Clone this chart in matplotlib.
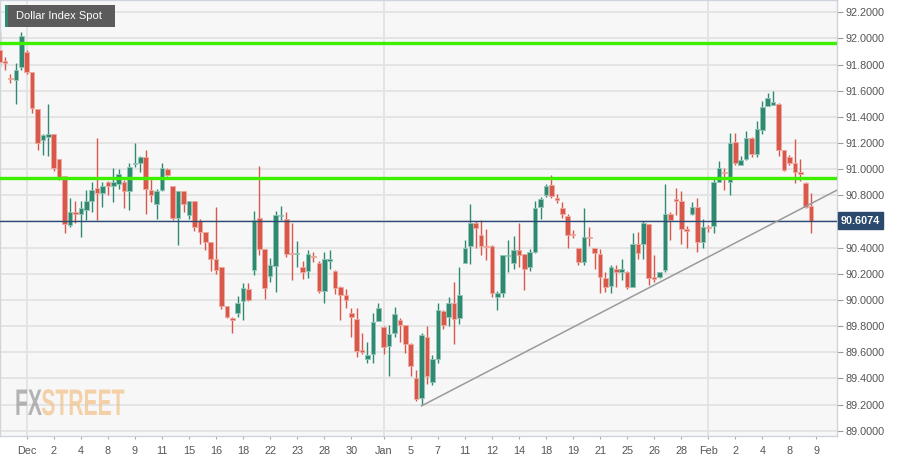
import matplotlib
matplotlib.use("Agg")
import numpy as np
import matplotlib.pyplot as plt
import matplotlib.transforms as mtransforms
from matplotlib.textpath import TextPath
from matplotlib.patches import PathPatch
from matplotlib.font_manager import FontProperties

# Candle data, one candle per index
opens = [91.91, 91.83, 91.70, 91.68, 91.78, 91.90, 91.74, 91.46, 91.22, 91.25,
         91.27, 91.08, 90.95, 90.57, 90.67, 90.66, 90.69, 90.76, 90.855, 90.82,
         90.905, 90.87, 90.89, 90.90, 90.83, 91.04, 91.05, 91.095, 90.84, 90.73,
         90.84, 91.00, 90.87, 90.63, 90.835, 90.65, 90.76, 90.60, 90.52, 90.44,
         90.31, 90.25, 89.95, 89.86, 89.90, 89.99, 90.08, 90.23, 90.63, 90.39,
         90.18, 90.26, 90.64, 90.62, 90.357, 90.35, 90.255, 90.22, 90.335, 90.28,
         90.07, 90.30, 90.224, 90.097, 90.04, 89.90, 89.855, 89.62, 89.545, 89.59,
         89.84, 89.79, 89.645, 89.745, 89.85, 89.805, 89.66, 89.40, 89.25, 89.72,
         89.37, 89.55, 89.915, 89.87, 89.98, 89.865, 90.28, 90.41, 90.585, 90.50,
         90.415, 90.415, 90.025, 90.05, 90.335, 90.285, 90.385, 90.35, 90.255, 90.365,
         90.71, 90.80, 90.88, 90.777, 90.705, 90.64, 90.505, 90.40, 90.29, 90.485,
         90.395, 90.35, 90.17, 90.107, 90.24, 90.215, 90.215, 90.10, 90.425, 90.43,
         90.58, 90.175, 90.175, 90.23, 90.655, 90.77, 90.76, 90.54, 90.655, 90.71,
         90.44, 90.56, 90.565, 90.905, 90.98, 90.905, 91.205, 91.03, 91.076, 91.236,
         91.12, 91.30, 91.483, 91.49, 91.50, 91.147, 91.096, 91.05, 90.98, 90.897,
         90.72]
highs = [92.05, 91.86, 91.73, 91.81, 92.05, 91.91, 91.74, 91.46, 91.27, 91.50,
         91.27, 91.08, 90.95, 90.78, 90.76, 90.76, 90.84, 90.90, 91.24, 90.90,
         90.91, 91.01, 91.00, 90.92, 91.05, 91.20, 91.10, 91.15, 90.94, 90.85,
         91.045, 91.01, 90.875, 90.83, 90.835, 90.76, 90.76, 90.62, 90.52, 90.44,
         90.71, 90.25, 89.95, 89.87, 90.03, 90.13, 90.13, 90.68, 91.025, 90.39,
         90.32, 90.68, 90.72, 90.67, 90.585, 90.45, 90.30, 90.38, 90.365, 90.30,
         90.37, 90.38, 90.23, 90.11, 90.08, 89.935, 89.935, 89.75, 89.68, 89.90,
         89.975, 89.80, 89.81, 89.945, 89.86, 89.81, 89.67, 89.465, 89.75, 89.80,
         89.58, 89.975, 89.92, 90.025, 90.135, 90.255, 90.46, 90.73, 90.60, 90.61,
         90.54, 90.42, 90.065, 90.345, 90.455, 90.49, 90.585, 90.35, 90.39, 90.755,
         90.79, 90.885, 90.955, 90.81, 90.75, 90.66, 90.535, 90.40, 90.70, 90.56,
         90.40, 90.39, 90.215, 90.27, 90.27, 90.31, 90.22, 90.51, 90.52, 90.605,
         90.58, 90.34, 90.215, 90.89, 90.67, 90.855, 90.83, 90.565, 90.75, 90.78,
         90.62, 90.57, 90.93, 91.06, 91.007, 91.275, 91.275, 91.10, 91.295, 91.245,
         91.365, 91.524, 91.585, 91.60, 91.51, 91.147, 91.11, 91.23, 91.076, 90.90,
         90.815]
lows = [91.78, 91.76, 91.66, 91.50, 91.76, 91.73, 91.43, 91.15, 91.11, 91.10,
        90.99, 90.92, 90.51, 90.56, 90.59, 90.48, 90.61, 90.67, 90.61, 90.71,
        90.80, 90.75, 90.85, 90.70, 90.69, 91.02, 90.98, 90.66, 90.75, 90.62,
        90.83, 90.95, 90.61, 90.42, 90.67, 90.62, 90.53, 90.43, 90.38, 90.22,
        90.20, 89.93, 89.86, 89.75, 89.87, 89.85, 89.99, 90.19, 90.34, 90.01,
        90.14, 90.06, 90.61, 90.33, 90.15, 90.255, 90.16, 90.17, 90.29, 90.055,
        89.98, 90.235, 90.045, 89.85, 89.935, 89.715, 89.56, 89.59, 89.515, 89.515,
        89.84, 89.585, 89.42, 89.72, 89.68, 89.595, 89.42, 89.23, 89.197, 89.36,
        89.35, 89.52, 89.775, 89.80, 89.665, 89.815, 90.28, 90.275, 90.395, 90.345,
        90.305, 90.025, 89.925, 90.02, 90.215, 90.235, 90.255, 90.076, 90.22, 90.36,
        90.617, 90.79, 90.777, 90.74, 90.63, 90.40, 90.47, 90.27, 90.27, 90.41,
        90.24, 90.05, 90.06, 90.05, 90.10, 90.155, 90.08, 90.10, 90.31, 90.31,
        90.115, 90.14, 90.17, 90.215, 90.455, 90.65, 90.43, 90.40, 90.65, 90.37,
        90.40, 90.52, 90.515, 90.90, 90.84, 90.80, 91.03, 91.03, 91.07, 91.09,
        91.09, 91.27, 91.48, 91.49, 91.10, 90.99, 91.03, 90.897, 90.91, 90.70,
        90.51]
closes = [91.82, 91.81, 91.69, 91.76, 92.02, 91.745, 91.47, 91.20, 91.26, 91.27,
          91.01, 90.94, 90.58, 90.67, 90.66, 90.70, 90.76, 90.84, 90.82, 90.87,
          90.875, 90.90, 90.965, 90.83, 91.02, 91.05, 91.09, 90.85, 90.80, 90.83,
          91.01, 90.955, 90.625, 90.83, 90.73, 90.76, 90.56, 90.52, 90.44, 90.31,
          90.23, 89.95, 89.87, 89.85, 89.975, 90.09, 90.00, 90.61, 90.39, 90.09,
          90.27, 90.65, 90.65, 90.35, 90.35, 90.36, 90.21, 90.35, 90.33, 90.07,
          90.31, 90.31, 90.094, 90.04, 90.00, 89.87, 89.61, 89.605, 89.58, 89.83,
          89.94, 89.64, 89.74, 89.89, 89.81, 89.66, 89.495, 89.24, 89.73, 89.42,
          89.55, 89.92, 89.81, 89.975, 89.855, 90.04, 90.40, 90.585, 90.55, 90.415,
          90.407, 90.05, 90.05, 90.345, 90.34, 90.38, 90.34, 90.24, 90.365, 90.705,
          90.77, 90.875, 90.795, 90.767, 90.655, 90.50, 90.495, 90.29, 90.485, 90.47,
          90.357, 90.177, 90.10, 90.25, 90.216, 90.235, 90.10, 90.425, 90.36, 90.59,
          90.165, 90.16, 90.21, 90.655, 90.61, 90.76, 90.54, 90.53, 90.71, 90.445,
          90.555, 90.55, 90.905, 91.007, 90.97, 91.20, 91.05, 91.07, 91.236, 91.116,
          91.31, 91.473, 91.542, 91.515, 91.147, 90.994, 91.05, 90.98, 90.963, 90.713,
          90.6074]

tick_pos = [5, 10, 15, 20, 25, 30, 35, 40, 45, 50, 55, 60, 65, 71, 76, 81,
            86, 91, 96, 101, 106, 111, 116, 121, 126, 131, 136, 141, 146, 151]
tick_labels = ["Dec", "2", "4", "8", "9", "11", "15", "16", "18", "22", "23", "28",
               "30", "Jan", "5", "7", "11", "12", "14", "18", "19", "21", "25",
               "26", "28", "Feb", "2", "4", "8", "9"]
month_pos = [5, 71, 131]
price_ticks = [89.0, 89.2, 89.4, 89.6, 89.8, 90.0, 90.2, 90.4, 90.6, 90.8,
               91.0, 91.2, 91.4, 91.6, 91.8, 92.0, 92.2]

resistance = [91.965, 90.93]
last_price = 90.6074
trend_x = [78, 154.8]
trend_y = [89.19, 90.84]

green = "#2f8a71"
green_edge = "#93c7b8"
red = "#d8584a"
red_edge = "#f0aaa2"

fig = plt.figure(figsize=(9.07, 4.61), dpi=100)
fig.patch.set_facecolor("white")
ax = fig.add_axes([0, 25 / 461, 837 / 907, 436 / 461])
ax.set_facecolor("#f7f7f7")

x = np.arange(len(opens))
o = np.array(opens)
c = np.array(closes)
up = c >= o

# gridlines
for yv in price_ticks:
    ax.axhline(yv, color="#e3e3e3", lw=1.3, zorder=0)
for mp in month_pos:
    ax.axvline(mp, color="#e3e3e3", lw=1.3, zorder=0)

# candles
col = np.where(up, green, red)
ecol = np.where(up, green_edge, red_edge)
ax.vlines(x, lows, highs, colors=col, lw=1.0, zorder=2)
body = np.maximum(np.abs(c - o), 0.008)
ax.bar(x, body, bottom=np.minimum(o, c), width=0.85, color=col,
       edgecolor=ecol, linewidth=0.6, zorder=3)

# levels
for r in resistance:
    ax.axhline(r, color="#3cf000", lw=2.4, zorder=4)
ax.axhline(last_price, color="#2b4a75", lw=1.0, zorder=4)
ax.plot(trend_x, trend_y, color="#9a9a9a", lw=1.1, zorder=4)

ax.set_xlim(0.06, 154.8)
ax.set_ylim(88.9595, 92.294)

ax.set_xticks(tick_pos)
ax.set_xticklabels(tick_labels)
ax.yaxis.tick_right()
ax.set_yticks(price_ticks)
# the 90.6000 label sits under the last-price tag
ax.set_yticklabels(["" if abs(v - 90.6) < 1e-9 else "%.4f" % v for v in price_ticks])
ax.tick_params(axis="x", length=2, color="#aaaaaa", pad=5, labelsize=7.8,
               labelcolor="#555555")
ax.tick_params(axis="y", length=4, color="#999999", pad=2, labelsize=7.8,
               labelcolor="#555555")
for lab in ax.get_xticklabels() + ax.get_yticklabels():
    lab.set_family("Liberation Sans")
for s in ax.spines.values():
    s.set_color("#cfd4dc")
    s.set_linewidth(1.0)

# last price tag
trans = mtransforms.blended_transform_factory(ax.transAxes, ax.transData)
ax.text(1.0045, last_price, "90.6074", transform=trans, ha="left", va="center",
        fontsize=7.8, fontweight="bold", color="white", family="Liberation Sans",
        bbox=dict(boxstyle="square,pad=0.3", fc="#2b4a6e", ec="#2b4a6e"),
        clip_on=False, zorder=6)

# title box
fig.patches.append(plt.Rectangle((5 / 907, 1 - 27 / 461), 110 / 907, 22 / 461,
                                 transform=fig.transFigure, fc="#5b5b5b",
                                 ec="none", zorder=10))
fig.patches.append(plt.Rectangle((5 / 907, 1 - 27 / 461), 2.5 / 907, 22 / 461,
                                 transform=fig.transFigure, fc="#2f8a71",
                                 ec="none", zorder=11))
fig.text(16 / 907, 1 - 16 / 461, "Dollar Index Spot", color="white",
         fontsize=8, family="Liberation Sans", va="center", ha="left",
         zorder=12)

# watermark logo
fp = FontProperties(family="Liberation Sans", weight="bold")
def logo_part(txt, x0, color):
    tp = TextPath((0, 0), txt, size=37, prop=fp)
    tr = mtransforms.Affine2D().scale(0.57, 1.0).translate(x0, 46) \
        + mtransforms.Affine2D().scale(1 / 907, 1 / 461) + fig.transFigure
    fig.patches.append(PathPatch(tp, transform=tr, fc=color, ec="none",
                                 alpha=0.75, zorder=5))
    return tp.get_extents().width * 0.57

w = logo_part("FX", 15, "#9d9d9d")
logo_part("STREET", 15 + w + 1, "#f2c38c")

fig.savefig("out.png", dpi=100, facecolor="white")
